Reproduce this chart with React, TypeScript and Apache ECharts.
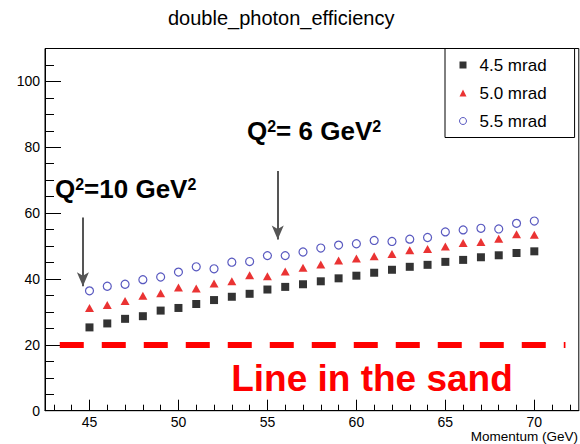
import React, { useEffect, useRef } from "react";
import * as echarts from "echarts";

const momentum = [45, 46, 47, 48, 49, 50, 51, 52, 53, 54, 55, 56, 57, 58, 59, 60, 61, 62, 63, 64, 65, 66, 67, 68, 69, 70];
const eff45 = [25.3, 26.5, 27.9, 28.7, 30.4, 31.2, 32.4, 33.6, 34.6, 35.5, 36.8, 37.6, 38.4, 39.3, 40.2, 41.0, 41.9, 42.8, 43.7, 44.3, 45.2, 45.8, 46.6, 47.2, 47.9, 48.4];
const eff50 = [31.2, 32.1, 33.3, 34.9, 35.7, 37.4, 37.1, 38.6, 39.3, 41.1, 40.8, 42.3, 43.4, 44.4, 45.6, 46.2, 46.9, 47.6, 48.7, 49.1, 49.9, 50.9, 51.2, 52.2, 53.6, 53.4];
const eff55 = [36.4, 37.8, 38.4, 39.8, 40.6, 42.1, 43.7, 43.1, 45.1, 45.3, 47.1, 47.1, 48.2, 49.4, 50.3, 50.7, 51.7, 51.4, 52.1, 52.6, 54.3, 54.9, 55.4, 55.2, 56.9, 57.6];
const seriesNames = ["4.5 mrad", "5.0 mrad", "5.5 mrad"];

const xMajorTicks = [45, 50, 55, 60, 65, 70];
const xMinorTicks = [43, 44, 46, 47, 48, 49, 51, 52, 53, 54, 56, 57, 58, 59, 61, 62, 63, 64, 66, 67, 68, 69, 71, 72];
const xRange = [42.5, 72.5];
const yRange = [0, 110];
const xTitle = "Momentum (GeV)";

const sandLevel = 20;
const sandLine = [43.33, 71.75];
// annotation arrows: [x, yStart, yEnd] in data units
const arrowQ10 = [44.63, 58.7, 37.8];
const arrowQ6 = [55.58, 72.8, 52.0];

const FONT = "'Liberation Sans', Arial, Helvetica, sans-serif";

function pairs(ys: number[]) {
  return momentum.map((x, i) => [x, ys[i]]);
}

export default function App() {
  const ref = useRef<HTMLDivElement>(null);
  useEffect(() => {
    if (!ref.current) return;
    const chart = echarts.init(ref.current, undefined, { renderer: "svg" });
    const arrowStyle = { color: "#555", width: 2, type: "solid" };
    const option: any = {
      animation: false,
      textStyle: { fontFamily: FONT },
      title: {
        text: "double_photon_efficiency",
        left: 163,
        top: 3,
        textStyle: { fontSize: 20, fontWeight: "normal", color: "#000", fontFamily: FONT },
      },
      grid: {
        left: 45,
        right: 1.2,
        top: 48.5,
        bottom: 33.3,
        containLabel: false,
        outerBoundsMode: "none",
        show: true,
        borderColor: "#000",
        borderWidth: 1,
        backgroundColor: "transparent",
      },
      legend: {
        orient: "vertical",
        left: 445,
        top: 48.5,
        padding: [8, 28, 8, 14],
        itemGap: 11,
        itemWidth: 7,
        itemHeight: 7,
        borderColor: "#000",
        borderWidth: 1,
        borderRadius: 0,
        backgroundColor: "#fff",
        itemStyle: { borderWidth: 1 },
        textStyle: { fontSize: 17, color: "#000", fontFamily: FONT, padding: [0, 0, 0, 8] },
        data: seriesNames,
      },
      xAxis: [
        {
          type: "value",
          min: xRange[0],
          max: xRange[1],
          position: "bottom",
          axisLine: { show: true, onZero: false, lineStyle: { color: "#000", width: 1 } },
          axisTick: { show: true, inside: true, length: 11, customValues: xMajorTicks, lineStyle: { color: "#000" } },
          axisLabel: { customValues: xMajorTicks, fontSize: 14, color: "#000", margin: 4, fontFamily: FONT },
          splitLine: { show: false },
        },
        {
          type: "value",
          min: xRange[0],
          max: xRange[1],
          position: "bottom",
          axisLine: { show: false, onZero: false },
          axisTick: { show: true, inside: true, length: 6, customValues: xMinorTicks, lineStyle: { color: "#000" } },
          axisLabel: { show: false },
          splitLine: { show: false },
        },
      ],
      yAxis: {
        type: "value",
        min: yRange[0],
        max: yRange[1],
        interval: 20,
        axisLine: { show: true, onZero: false, lineStyle: { color: "#000", width: 1 } },
        axisTick: { show: true, inside: true, length: 16, lineStyle: { color: "#000" } },
        minorTick: { show: true, splitNumber: 4, length: 9, lineStyle: { color: "#000" } },
        axisLabel: { fontSize: 14, color: "#000", margin: 5, showMaxLabel: false, fontFamily: FONT },
        splitLine: { show: false },
      },
      series: [
        {
          name: seriesNames[0],
          type: "scatter",
          symbol: "rect",
          symbolSize: 8,
          itemStyle: { color: "#000" },
          data: pairs(eff45),
          markLine: {
            silent: true,
            animation: false,
            label: { show: false },
            data: [
              [
                { coord: [sandLine[0], sandLevel], symbol: "none", lineStyle: { color: "#ff0000", width: 6, type: [24, 18] } },
                { coord: [sandLine[1], sandLevel], symbol: "none" },
              ],
              [
                { coord: [arrowQ10[0], arrowQ10[1]], symbol: "none", lineStyle: arrowStyle },
                { coord: [arrowQ10[0], arrowQ10[2]], symbol: "arrow", symbolSize: [9, 14] },
              ],
              [
                { coord: [arrowQ6[0], arrowQ6[1]], symbol: "none", lineStyle: arrowStyle },
                { coord: [arrowQ6[0], arrowQ6[2]], symbol: "arrow", symbolSize: [9, 14] },
              ],
            ],
          },
        },
        {
          name: seriesNames[1],
          type: "scatter",
          symbol: "triangle",
          symbolSize: [9, 8],
          itemStyle: { color: "#e50000" },
          data: pairs(eff50),
        },
        {
          name: seriesNames[2],
          type: "scatter",
          symbol: "circle",
          symbolSize: 8,
          itemStyle: { color: "#fff", borderColor: "#2f2fb0", borderWidth: 1.2 },
          data: pairs(eff55),
        },
      ],
      graphic: [
        {
          type: "text",
          x: 578,
          y: 429.5,
          style: {
            text: xTitle,
            align: "right",
            verticalAlign: "top",
            fontSize: 13.5,
            fill: "#000",
            fontFamily: FONT,
          },
        },
        {
          type: "text",
          x: 55,
          y: 176,
          style: {
            text: "{b|Q}{s|2}{b|=10 GeV}{s|2}",
            verticalAlign: "top",
            rich: {
              b: { fontSize: 26, fontWeight: "bold", fill: "#000", fontFamily: FONT },
              s: { fontSize: 16, fontWeight: "bold", fill: "#000", fontFamily: FONT, verticalAlign: "top" },
            },
          },
        },
        {
          type: "text",
          x: 247,
          y: 118,
          style: {
            text: "{b|Q}{s|2}{b|= 6 GeV}{s|2}",
            verticalAlign: "top",
            rich: {
              b: { fontSize: 26, fontWeight: "bold", fill: "#000", fontFamily: FONT },
              s: { fontSize: 16, fontWeight: "bold", fill: "#000", fontFamily: FONT, verticalAlign: "top" },
            },
          },
        },
        {
          type: "text",
          x: 372,
          y: 360.4,
          style: {
            text: "Line in the sand",
            align: "center",
            verticalAlign: "top",
            fontSize: 37,
            fontWeight: "bold",
            fill: "#ff0000",
            fontFamily: FONT,
          },
        },
      ],
    };
    chart.setOption(option);
    return () => chart.dispose();
  }, []);
  return (
    <div
      ref={ref}
      style={{ position: "absolute", left: 0, top: 0, width: 580, height: 444, background: "#fff" }}
    />
  );
}
